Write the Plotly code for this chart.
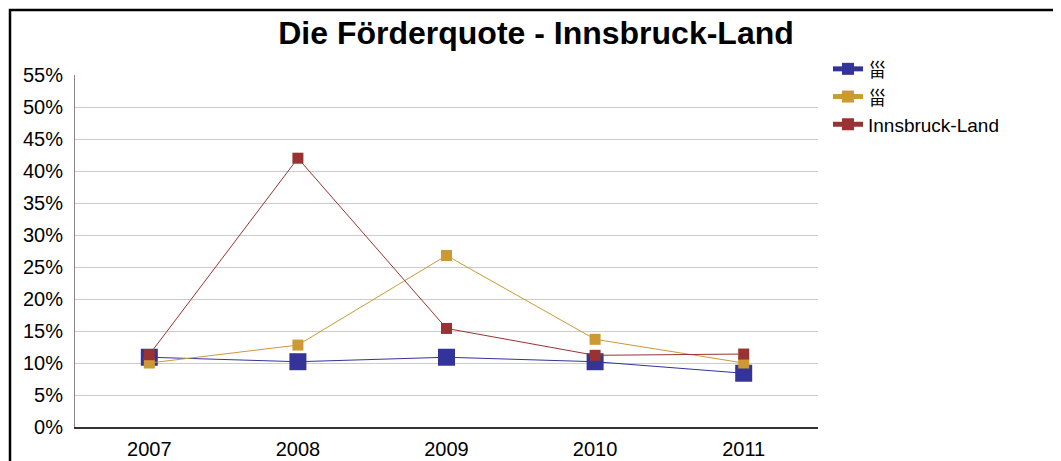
import plotly.graph_objects as go

years = ["2007", "2008", "2009", "2010", "2011"]
series_names = ["甾", "甾", "Innsbruck-Land"]
blue_vals = [10.9, 10.2, 10.9, 10.2, 8.4]
orange_vals = [10.0, 12.8, 26.8, 13.7, 10.0]
red_vals = [11.3, 42.0, 15.4, 11.2, 11.4]
y_ticks = [0, 5, 10, 15, 20, 25, 30, 35, 40, 45, 50, 55]
y_tick_labels = [f"{v}%" for v in y_ticks]

colors = ["#333399", "#CC9933", "#993333"]
sizes = [17, 11, 11]
values = [blue_vals, orange_vals, red_vals]

FONT = "Liberation Sans, Arial, sans-serif"

fig = go.Figure()
for name, vals, col, sz in zip(series_names, values, colors, sizes):
    fig.add_trace(go.Scatter(
        x=years, y=vals, name=name, mode="lines+markers",
        line=dict(color=col, width=1),
        marker=dict(symbol="square", size=sz, color=col),
    ))

OFF = 8  # page body margin
L, T, R, B = 75, 75, 818, 427
W, H = 1061 - OFF, 461 - OFF
pw, ph = R - L, B - T

def px_x(p):
    return (p - L) / pw

def px_y(p):
    return (B - p) / ph

fig.update_layout(
    width=W, height=H,
    margin=dict(l=L - OFF, r=W - (R - OFF), t=T - OFF, b=H - (B - OFF), pad=0),
    paper_bgcolor="white", plot_bgcolor="white",
    font=dict(family=FONT, size=20, color="black"),
    title=dict(text="<b>Die Förderquote - Innsbruck-Land</b>",
               x=px_x(536), xref="paper", xanchor="center",
               y=1 - (33 - OFF) / H, yanchor="middle",
               font=dict(size=32, family=FONT, color="black")),
    showlegend=True,
    legend=dict(x=px_x(828), y=px_y(50), xanchor="left", yanchor="top",
                font=dict(size=19, family=FONT), itemsizing="constant",
                bgcolor="rgba(0,0,0,0)", tracegroupgap=0),
    xaxis=dict(type="category", range=[-0.5, 4.5], showgrid=False,
               showline=True, linecolor="#333333", linewidth=1.5,
               ticks="", ticklabelstandoff=3, automargin=False,
               tickfont=dict(size=20, family=FONT), fixedrange=True),
    yaxis=dict(range=[0, 55], tickvals=y_ticks, ticktext=y_tick_labels,
               showgrid=True, gridcolor="#cccccc", gridwidth=1,
               showline=True, linecolor="#888888", linewidth=1,
               ticks="", ticklabelstandoff=7, zeroline=False, automargin=False,
               tickfont=dict(size=20, family=FONT)),
    shapes=[dict(type="rect", xref="paper", yref="paper",
                 x0=px_x(10), x1=px_x(1075), y0=px_y(475), y1=px_y(10),
                 line=dict(color="black", width=2.5), fillcolor="rgba(0,0,0,0)",
                 layer="above")],
)

fig.write_html("out.html")
